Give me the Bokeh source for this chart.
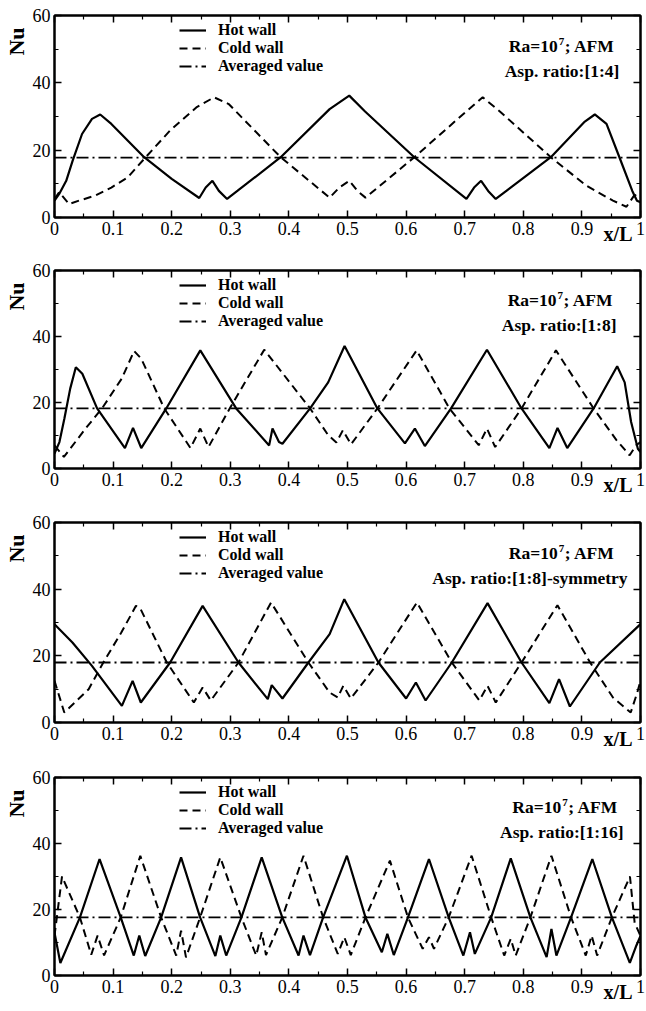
from bokeh.plotting import figure
from bokeh.layouts import column
from bokeh.models import FixedTicker, LinearAxis, Legend, LegendItem, Label, Title
from bokeh.embed import file_html
from bokeh.resources import INLINE

# ---------------- data ----------------
x_ticks = [0.0, 0.1, 0.2, 0.3, 0.4, 0.5, 0.6, 0.7, 0.8, 0.9, 1.0]
x_tick_labels = ["0", "0.1", "0.2", "0.3", "0.4", "0.5", "0.6", "0.7", "0.8", "0.9", "1"]
x_minor = [0.05, 0.15, 0.25, 0.35, 0.45, 0.55, 0.65, 0.75, 0.85, 0.95]
y_ticks = [0, 20, 40, 60]
y_minor = [10, 30, 50]
avg_x = [0.0, 1.0]

# Panel 1: aspect ratio 1:4
p1_hot_x = [0.0, 0.008, 0.020, 0.031, 0.047, 0.064, 0.078, 0.097, 0.153, 0.200, 0.247, 0.258, 0.2695,
            0.2805, 0.2945, 0.386, 0.4695, 0.503, 0.530, 0.614, 0.703, 0.716, 0.728, 0.740, 0.753,
            0.847, 0.905, 0.922, 0.942, 0.964, 0.986, 0.994, 1.0]
p1_hot = [5.0, 7.0, 10.9, 16.9, 24.8, 29.3, 30.6, 27.8, 17.9, 11.5, 5.8, 8.9, 10.9,
          7.9, 5.5, 17.9, 32.2, 36.2, 31.5, 17.9, 5.5, 8.9, 10.9, 7.9, 5.5,
          17.9, 28.5, 30.6, 27.8, 17.9, 7.9, 5.0, 4.5]
p1_cold_x = [0.0, 0.008, 0.025, 0.0417, 0.0695, 0.097, 0.125, 0.153, 0.197, 0.242, 0.2723, 0.2973,
             0.386, 0.4695, 0.486, 0.503, 0.517, 0.5307, 0.614, 0.685, 0.7307, 0.760, 0.847,
             0.908, 0.953, 0.976, 0.989, 1.0]
p1_cold = [5.5, 7.5, 4.0, 5.0, 6.5, 8.9, 11.9, 17.4, 25.8, 32.7, 35.7, 33.7,
           17.9, 5.9, 8.9, 10.9, 7.9, 5.9, 17.9, 28.8, 35.7, 31.5, 17.9,
           9.4, 5.0, 3.2, 6.5, 7.0]
p1_avg = [17.8, 17.8]

# Panel 2: aspect ratio 1:8
p2_hot_x = [0.0, 0.0084, 0.0168, 0.0268, 0.0364, 0.0475, 0.0727, 0.1202, 0.134, 0.148, 0.1907, 0.2488,
            0.310, 0.3663, 0.372, 0.3831, 0.389, 0.4362, 0.467, 0.495, 0.551, 0.598, 0.615, 0.632,
            0.6767, 0.738, 0.797, 0.8445, 0.8584, 0.875, 0.92, 0.9602, 0.973, 0.984, 0.9955, 1.0]
p2_hot = [4.5, 8.0, 15.1, 24.2, 30.7, 28.7, 18.2, 6.2, 12.3, 6.2, 18.2, 35.8,
          18.2, 7.0, 12.1, 8.0, 7.5, 18.2, 26.1, 37.1, 18.2, 7.6, 12.1, 6.8,
          18.2, 36.0, 18.2, 6.2, 12.3, 6.2, 18.2, 31.0, 26.1, 14.1, 6.0, 5.0]
p2_cold_x = [0.0, 0.016, 0.053, 0.081, 0.1146, 0.1359, 0.148, 0.1873, 0.232, 0.2488, 0.2628, 0.299,
             0.3579, 0.4362, 0.467, 0.481, 0.4921, 0.506, 0.551, 0.618, 0.674, 0.724, 0.738, 0.752,
             0.797, 0.8557, 0.92, 0.959, 0.9815, 0.9926, 1.0]
p2_cold = [7.0, 3.5, 12.1, 18.2, 27.2, 35.6, 33.3, 18.2, 6.2, 12.1, 6.5, 18.2,
           36.0, 18.2, 10.1, 7.9, 11.6, 7.3, 18.2, 35.8, 18.2, 7.05, 12.1, 6.5,
           18.2, 35.8, 18.2, 8.6, 4.0, 7.05, 8.0]
p2_avg = [18.2, 18.2]

# Panel 3: aspect ratio 1:8, symmetry
p3_hot_x = [0.0, 0.0306, 0.0639, 0.115, 0.1333, 0.1473, 0.1973, 0.2528, 0.314, 0.364, 0.3707, 0.389,
            0.4333, 0.4695, 0.4945, 0.5528, 0.600, 0.6167, 0.6333, 0.678, 0.739, 0.797, 0.8445,
            0.861, 0.8795, 0.9306, 1.0]
p3_hot = [29.5, 24.0, 17.0, 5.0, 12.5, 6.0, 18.0, 35.0, 18.0, 7.0, 11.2, 7.2,
          18.0, 26.5, 37.0, 18.0, 7.2, 12.0, 6.6, 18.0, 35.8, 18.0, 5.8,
          13.0, 4.8, 18.0, 29.5]
p3_cold_x = [0.0, 0.0167, 0.0583, 0.0833, 0.114, 0.139, 0.147, 0.1917, 0.2378, 0.2528, 0.2667, 0.314,
             0.3695, 0.4333, 0.4695, 0.4833, 0.4928, 0.5057, 0.5528, 0.6184, 0.678, 0.725, 0.739,
             0.753, 0.797, 0.8583, 0.914, 0.953, 0.9833, 0.9945, 1.0]
p3_cold = [12.5, 3.0, 10.0, 18.0, 27.0, 35.0, 34.0, 18.0, 6.0, 10.5, 6.6, 18.0,
           36.0, 18.0, 9.0, 7.5, 11.0, 7.2, 18.0, 36.0, 18.0, 6.6, 11.0,
           6.0, 18.0, 35.2, 18.0, 7.5, 3.0, 9.0, 12.5]
p3_avg = [18.0, 18.0]

# Panel 4: aspect ratio 1:16
p4_hot_x = [0.0, 0.010, 0.0434, 0.0769, 0.113, 0.1353, 0.1447, 0.1548, 0.182, 0.216, 0.2485, 0.2745,
            0.2829, 0.293, 0.319, 0.3536, 0.3887, 0.4165, 0.4249, 0.436, 0.4584, 0.499, 0.5307,
            0.5586, 0.568, 0.579, 0.6032, 0.639, 0.6727, 0.6977, 0.709, 0.7173, 0.7452, 0.7786,
            0.8121, 0.8398, 0.848, 0.8565, 0.8815, 0.9178, 0.9512, 0.9818, 0.993, 1.0]
p4_hot = [13.0, 3.8, 17.6, 35.3, 17.6, 6.05, 12.1, 5.9, 17.6, 35.8, 17.6, 5.9,
          12.1, 6.05, 17.6, 35.8, 17.6, 6.05, 12.1, 6.2, 17.6, 36.3, 17.6,
          7.05, 12.6, 6.2, 17.6, 35.3, 17.6, 6.05, 13.1, 6.55, 17.6, 35.5,
          17.6, 5.55, 14.1, 6.05, 17.6, 35.3, 17.6, 3.8, 9.1, 12.0]
p4_cold_x = [0.0, 0.0128, 0.0434, 0.0627, 0.0735, 0.0846, 0.113, 0.1464, 0.182, 0.2077, 0.216, 0.2244,
             0.2485, 0.2829, 0.319, 0.3442, 0.3536, 0.3609, 0.3887, 0.4249, 0.4584, 0.4834, 0.4946,
             0.5056, 0.5307, 0.5724, 0.6032, 0.6283, 0.639, 0.6476, 0.6727, 0.7118, 0.7452, 0.7674,
             0.7786, 0.787, 0.8121, 0.848, 0.8815, 0.9066, 0.9166, 0.926, 0.9512, 0.982, 0.990, 1.0]
p4_cold = [12.0, 30.0, 17.6, 6.3, 12.1, 6.1, 17.6, 36.3, 17.6, 6.05, 13.6, 5.5,
           17.6, 35.8, 17.6, 6.05, 13.1, 6.2, 17.6, 36.3, 17.6, 6.55, 11.6,
           6.2, 17.6, 34.8, 17.6, 8.1, 11.6, 8.1, 17.6, 36.3, 17.6, 6.05,
           11.1, 6.05, 17.6, 36.3, 17.6, 6.05, 12.1, 6.05, 17.6, 30.0, 16.0, 12.0]
p4_avg = [17.6, 17.6]

series_labels = ["Hot wall", "Cold wall", "Averaged value"]
aspect_labels = ["Asp. ratio:[1:4]", "Asp. ratio:[1:8]", "Asp. ratio:[1:8]-symmetry", "Asp. ratio:[1:16]"]
x_title = "x/L"
y_title = "Nu"

# ---------------- styling ----------------
FONT = "Liberation Serif"
W = 646


def style_axis(ax, show_labels):
    ax.axis_line_color = "black"
    ax.axis_line_width = 2
    ax.major_tick_in = 7
    ax.major_tick_out = 0
    ax.minor_tick_in = 4
    ax.minor_tick_out = 0
    ax.major_tick_line_width = 1.5
    ax.minor_tick_line_width = 1.2
    ax.major_tick_line_color = "black"
    ax.minor_tick_line_color = "black"
    if show_labels:
        ax.major_label_text_font = FONT
        ax.major_label_text_font_size = "18px"
        ax.major_label_text_color = "black"
        ax.major_label_standoff = 4
    else:
        ax.major_label_text_alpha = 0
        ax.major_label_text_font_size = "0px"
        ax.major_label_standoff = 0


def panel(hot_x, hot_y, cold_x, cold_y, avg_y, aspect, asp_xr, ra_xr, h, top, bottom, left):
    p = figure(width=W, height=h, x_range=(0, 1), y_range=(0, 60),
               output_backend="svg", toolbar_location=None,
               min_border_left=left, min_border_right=6,
               min_border_top=top, min_border_bottom=bottom,
               background_fill_color="white", border_fill_color="white",
               outline_line_color="black", outline_line_width=2)
    p.grid.visible = False

    rh = p.line(hot_x, hot_y, line_color="black", line_width=2.2)
    rc = p.line(cold_x, cold_y, line_color="black", line_width=2, line_dash="8 5")
    ra = p.line(avg_x, avg_y, line_color="black", line_width=1.8, line_dash="12 4 2 4")

    bx = p.xaxis[0]
    bx.ticker = FixedTicker(ticks=x_ticks, minor_ticks=x_minor)
    bx.major_label_overrides = {t: s for t, s in zip(x_ticks, x_tick_labels)}
    style_axis(bx, True)
    ly = p.yaxis[0]
    ly.ticker = FixedTicker(ticks=y_ticks, minor_ticks=y_minor)
    style_axis(ly, True)

    # x/L at the right end, pulled up beside the tick labels
    xl = Title(text=x_title, align="right", vertical_align="top", offset=8, standoff=-30,
               text_font=FONT, text_font_style="bold", text_font_size="20px",
               text_color="black")
    p.add_layout(xl, "below")

    # Nu near the top of the left side
    nu = Title(text=y_title, align="right", offset=12, standoff=2,
               text_font=FONT, text_font_style="bold", text_font_size="22px",
               text_color="black")
    p.add_layout(nu, "left")

    tx = LinearAxis(ticker=FixedTicker(ticks=x_ticks, minor_ticks=x_minor))
    style_axis(tx, False)
    p.add_layout(tx, "above")
    ry = LinearAxis(ticker=FixedTicker(ticks=y_ticks, minor_ticks=y_minor))
    style_axis(ry, False)
    p.add_layout(ry, "right")

    frame_h = h - top - bottom
    legend = Legend(items=[LegendItem(label=series_labels[0], renderers=[rh]),
                           LegendItem(label=series_labels[1], renderers=[rc]),
                           LegendItem(label=series_labels[2], renderers=[ra])],
                    location=(125, frame_h - 60),
                    border_line_alpha=0, background_fill_alpha=0,
                    padding=0, margin=0, spacing=0,
                    glyph_width=27, glyph_height=18, label_height=18,
                    label_standoff=12,
                    label_text_font=FONT, label_text_font_style="bold",
                    label_text_font_size="16px", label_text_color="black")
    p.add_layout(legend)

    bold = dict(text_font=FONT, text_font_style="bold", text_color="black")
    # Ra=10^7; AFM  (three pieces for the superscript)
    p.add_layout(Label(x=ra_xr, y=51, text="; AFM", text_align="right",
                       text_baseline="middle", text_font_size="17.5px", **bold))
    p.add_layout(Label(x=ra_xr, y=52.3, text="7", text_align="right", x_offset=-50.5,
                       text_baseline="middle", text_font_size="11px", **bold))
    p.add_layout(Label(x=ra_xr, y=51, text="Ra=10", text_align="right", x_offset=-57,
                       text_baseline="middle", text_font_size="17.5px", **bold))
    p.add_layout(Label(x=asp_xr, y=43.4, text=aspect, text_align="right",
                       text_baseline="middle", text_font_size="17.5px", **bold))
    return p


p1 = panel(p1_hot_x, p1_hot, p1_cold_x, p1_cold, p1_avg, aspect_labels[0], 0.964, 0.956,
           253, 15, 36, 48)
p2 = panel(p2_hot_x, p2_hot, p2_cold_x, p2_cold, p2_avg, aspect_labels[1], 0.959, 0.954,
           253, 17, 38, 52)
p3 = panel(p3_hot_x, p3_hot, p3_cold_x, p3_cold, p3_avg, aspect_labels[2], 0.978, 0.956,
           253, 16, 37, 48)
p4 = panel(p4_hot_x, p4_hot, p4_cold_x, p4_cold, p4_avg, aspect_labels[3], 0.971, 0.962,
           252, 18, 36, 51)

layout = column(p1, p2, p3, p4, spacing=0)
open("out.html", "w").write(file_html(layout, INLINE))
